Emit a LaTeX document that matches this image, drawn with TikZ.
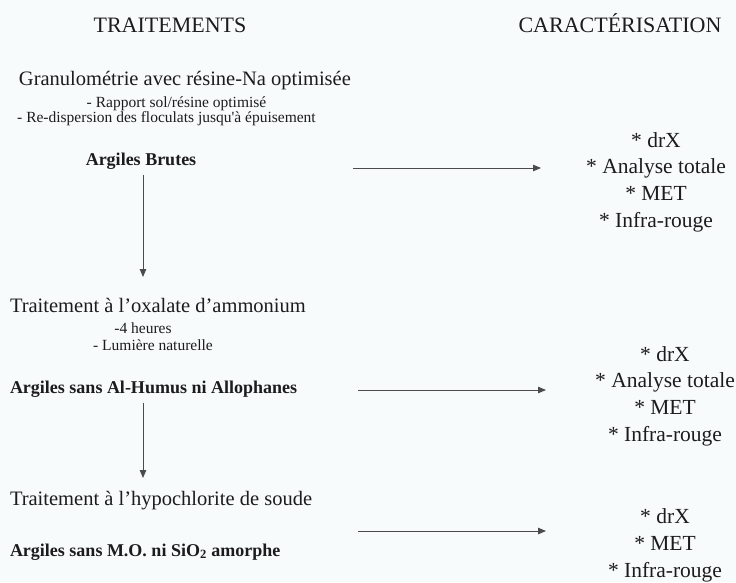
\documentclass[tikz,border=0pt]{standalone}
\usepackage{fontspec}
\setmainfont{Liberation Serif}
\usetikzlibrary{arrows.meta}
\definecolor{ink}{RGB}{28,28,28}
\definecolor{paper}{RGB}{248,251,252}
\definecolor{linec}{RGB}{75,75,75}
\begin{document}
\begin{tikzpicture}[x=1pt,y=-1pt,
  every node/.style={inner sep=0pt, outer sep=0pt, text=ink},
  head/.style={font=\fontsize{22}{26}\selectfont},
  main/.style={font=\fontsize{20.5}{24}\selectfont},
  sub/.style={font=\fontsize{15.5}{18}\selectfont},
  res/.style={font=\bfseries\fontsize{18}{22}\selectfont},
  meth/.style={font=\fontsize{21.5}{26.6}\selectfont, align=center},
  conn/.style={draw=linec, line width=0.9pt, -{Triangle[length=8pt,width=6.5pt]}}]
\fill[paper] (0,0) rectangle (736,582);
\useasboundingbox (0,0) rectangle (736,582);
% titles
\node[head, anchor=base] (t1) at (170,32) {TRAITEMENTS};
\node[head, anchor=base] (t2) at (620,32) {CARACTÉRISATION};
% step 1
\node[main, anchor=base west] (g1) at (19,85) {Granulométrie avec résine-Na optimisée};
\node[sub, anchor=base] (g1a) at (176.5,107) {- Rapport sol/résine optimisé};
\node[sub, anchor=base] (g1b) at (166.5,122) {- Re-dispersion des floculats jusqu\textquotesingle à épuisement};
\node[res, anchor=base] (ab) at (141,165) {Argiles Brutes};
% step 2
\node[main, anchor=base west] (ox) at (10,312) {Traitement à l’oxalate d’ammonium};
\node[sub, anchor=base] (oxa) at (143,333) {-4 heures};
\node[sub, anchor=base] (oxb) at (153,350) {- Lumière naturelle};
\node[res, anchor=base west] (aa) at (10,393) {Argiles sans Al-Humus ni Allophanes};
% step 3
\node[main, anchor=base west] (hy) at (10,505) {Traitement à l’hypochlorite de soude};
\node[res, anchor=base west] (am) at (10,556) {Argiles sans M.O. ni SiO\textsubscript{2} amorphe};
% characterisation groups (base = last line)
\node[meth, anchor=base] (c1) at (656,227) {* drX\\* Analyse totale\\* MET\\* Infra-rouge};
\node[meth, anchor=base] (c2) at (665,441) {* drX\\* Analyse totale\\* MET\\* Infra-rouge};
\node[meth, anchor=base] (c3) at (665,577) {* drX\\* MET\\* Infra-rouge};
% connector ends
\coordinate (h1s) at (353,168); \coordinate (h1e) at (541,168);
\coordinate (h2s) at (358,390); \coordinate (h2e) at (546,390);
\coordinate (h3s) at (358,531); \coordinate (h3e) at (546,531);
\coordinate (v1s) at (143,175); \coordinate (v1e) at (143,277);
\coordinate (v2s) at (143,403); \coordinate (v2e) at (143,478);
\draw[conn] (h1s) -- (h1e);
\draw[conn] (h2s) -- (h2e);
\draw[conn] (h3s) -- (h3e);
\draw[conn] (v1s) -- (v1e);
\draw[conn] (v2s) -- (v2e);
\end{tikzpicture}
\end{document}
